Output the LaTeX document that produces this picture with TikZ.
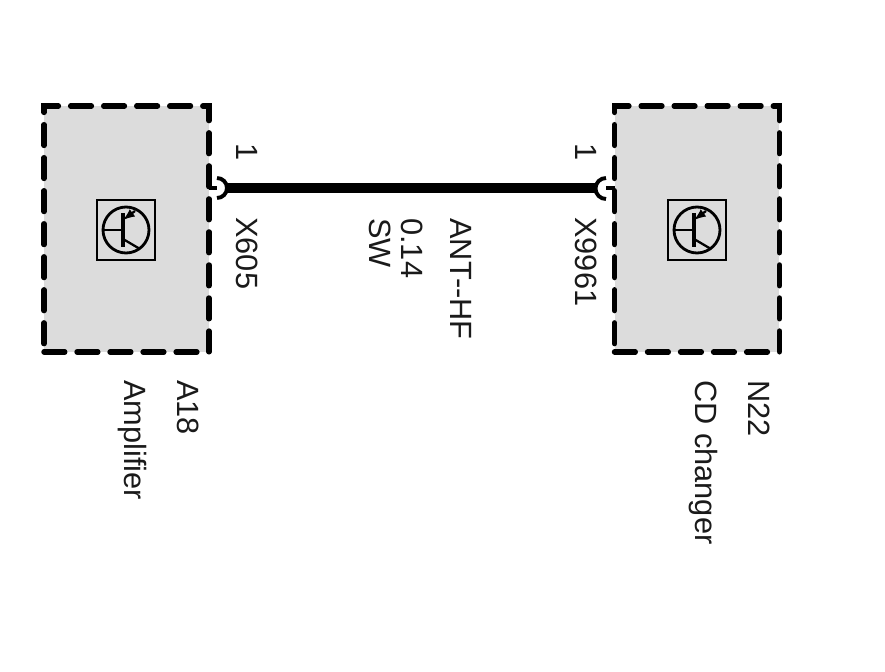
\documentclass[tikz,border=0pt]{standalone}
\usepackage{fontspec}
\setmainfont{Liberation Sans}
\definecolor{boxgray}{HTML}{DCDCDC}
\definecolor{labelgray}{HTML}{1A1A1A}
\tikzset{
  unitbox/.style={draw,fill=boxgray,line width=3.1pt,dash pattern=on 11.8pt off 7pt,line cap=round,minimum width=3.3cm,minimum height=4.92cm,inner sep=0pt},
  symbox/.style={draw,line width=1.6pt,minimum width=1.16cm,minimum height=1.2cm,inner sep=0pt},
  symring/.style={draw,circle,line width=1.6pt,minimum size=0.92cm,inner sep=0pt},
  symline/.style={line width=1.3pt},
  wire/.style={line width=6pt},
  socket/.style={line width=2.2pt},
  lab/.style={rotate=-90,anchor=base west,inner sep=0pt,text=labelgray,font=\fontsize{17.5}{20}\selectfont}
}
\begin{document}
\begin{tikzpicture}[x=0.02cm,y=-0.02cm]
\useasboundingbox (0,0) rectangle (885,672);
\node[unitbox] (A18) at (126.5,229) {};
\node[unitbox] (N22) at (697,229) {};
% transistor symbols
\foreach \cx/\n in {126/left,697/right}{
\begin{scope}[shift={(\cx,230)}]
\node[symbox] (sym\n) at (0,0) {};
\node[symring] (ring\n) at (0,0) {};
\coordinate (base\n) at (-3,0);
\draw[symline] (ring\n.west) -- (base\n);
\draw[line width=2.2pt] (-3,-17) -- (-3,17);
\draw[symline,-latex] (9,-19) -- (-3,-10);
\draw[symline] (-3,9) -- (14,19);
\end{scope}
}
\coordinate (pinA) at (209,188);
\coordinate (sockA) at (217,188);
\coordinate (pinN) at (615,188);
\coordinate (sockN) at (606,188);
\draw[socket] (pinA) -- (sockA);
\draw[socket] (pinN) -- (sockN);
\draw[socket] (217,178) arc[start angle=-90,end angle=90,radius=10];
\draw[socket] (606,178) arc[start angle=270,end angle=90,radius=10.5];
\coordinate (wireA) at (226,188);
\coordinate (wireN) at (597,188);
\draw[wire] (wireA) -- (wireN);
\node[lab] (pin1) at (236,143) {1};
\node[lab] (x605) at (236,217) {X605};
\node[lab] (pin2) at (575,143) {1};
\node[lab] (x9961) at (575,217) {X9961};
\node[lab] (ant) at (450,218) {ANT-{}-HF};
\node[lab] (size) at (401,218) {0.14};
\node[lab] (sw) at (369,218) {SW};
\node[lab] (a18) at (177,380) {A18};
\node[lab] (amp) at (124,380) {Amplifier};
\node[lab] (n22) at (748,380) {N22};
\node[lab] (cd) at (695,380) {CD changer};
\end{tikzpicture}
\end{document}
